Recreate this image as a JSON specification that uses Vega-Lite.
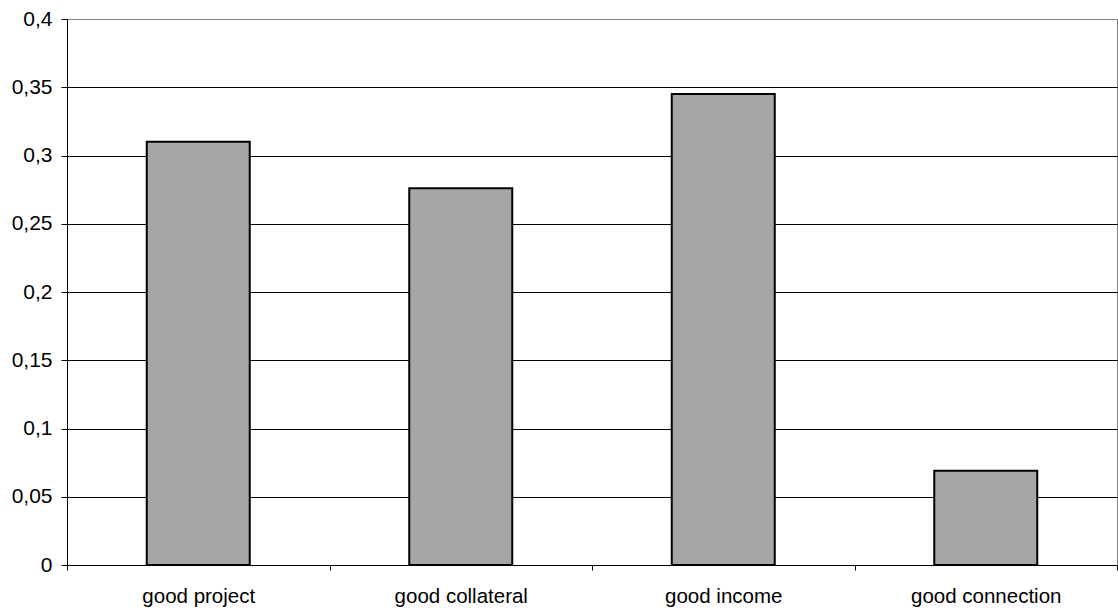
{
  "$schema": "https://vega.github.io/schema/vega-lite/v6.json",
  "width": 1050,
  "height": 546,
  "autosize": {"type": "none"},
  "padding": {"left": 67, "top": 19, "right": 1, "bottom": 45},
  "background": "white",
  "config": {
    "font": "Liberation Sans",
    "view": {"stroke": "#808080", "strokeWidth": 1},
    "axis": {"labelFont": "Liberation Sans", "labelColor": "#000", "domainColor": "#000", "tickColor": "#000"}
  },
  "data": {
    "values": [
      {"category": "good project", "value": 0.310},
      {"category": "good collateral", "value": 0.276},
      {"category": "good income", "value": 0.345},
      {"category": "good connection", "value": 0.069}
    ]
  },
  "mark": {"type": "bar", "size": 103, "fill": "#a6a6a6", "stroke": "#000", "strokeWidth": 2},
  "encoding": {
    "x": {
      "field": "category",
      "type": "nominal",
      "sort": null,
      "scale": {"paddingInner": 0, "paddingOuter": 0},
      "axis": {"title": null, "labelAngle": 0, "labelFontSize": 20.5, "tickBand": "extent", "tickSize": 5, "labelPadding": 16, "grid": false, "domainColor": "#000"}
    },
    "y": {
      "field": "value",
      "type": "quantitative",
      "scale": {"domain": [0, 0.4], "nice": false},
      "axis": {
        "title": null,
        "values": [0, 0.05, 0.1, 0.15, 0.2, 0.25, 0.3, 0.35, 0.4],
        "format": "~g",
        "labelExpr": "replace(datum.label, '.', ',')",
        "labelFontSize": 21,
        "tickSize": 6,
        "labelPadding": 9,
        "grid": true,
        "gridColor": {"condition": {"test": "datum.value >= 0.4", "value": "#808080"}, "value": "#000"},
        "gridWidth": 1,
        "domainColor": "#000"
      }
    }
  }
}
